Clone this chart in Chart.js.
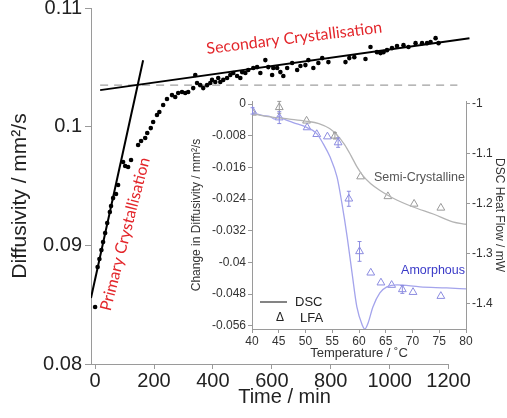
<!DOCTYPE html>
<html>
<head>
<meta charset="utf-8">
<script src="https://cdn.jsdelivr.net/npm/chart.js@4.4.1/dist/chart.umd.min.js"></script>
<style>
  html, body { margin: 0; padding: 0; background: #fff; }
  #wrap { position: relative; width: 507px; height: 418px; }
  #mainChart { position: absolute; left: 0; top: 0; width: 507px; height: 418px; }
  #insetChart { position: absolute; left: 180px; top: 90px; width: 327px; height: 280px; }
</style>
</head>
<body>
<div id="wrap">
  <canvas id="mainChart" width="507" height="418"></canvas>
  <canvas id="insetChart" width="327" height="280"></canvas>
</div>
<script>
// isothermal run: diffusivity vs time
const timeMin = [0, 8.5, 14.6, 21.4, 27, 34, 41, 50, 54, 61, 71, 78, 95, 102, 112, 122, 146, 156, 170, 177,
  189, 197, 210, 218, 231, 244, 261, 272, 282, 295, 306, 316, 333, 340, 346, 357, 367, 380, 391, 397,
  408, 418, 425, 435, 448, 459, 469, 482, 493, 499, 510, 520, 537, 550, 561, 578, 588, 601, 605, 618,
  629, 639, 652, 669, 686, 697, 714, 724, 741, 758, 771, 792, 850, 863, 880, 918, 935, 957, 969, 979,
  991, 1008, 1025, 1047, 1064, 1088, 1110, 1127, 1139, 1156, 1166];
const diffusivity = [0.0848, 0.08817, 0.08885, 0.0896, 0.09028, 0.09104, 0.09188, 0.09281, 0.09331, 0.09398,
  0.09432, 0.09508, 0.09702, 0.09668, 0.0966, 0.09719, 0.09845, 0.09879, 0.09904, 0.09946,
  0.09988, 0.10039, 0.10098, 0.10123, 0.10182, 0.10233, 0.10266, 0.1025, 0.10284, 0.10292,
  0.10284, 0.10292, 0.10325, 0.10435, 0.10368, 0.1035, 0.10325, 0.1035, 0.10368, 0.10394,
  0.10376, 0.1041, 0.10376, 0.10394, 0.1041, 0.10435, 0.10452, 0.10427, 0.1041, 0.1046,
  0.10452, 0.10477, 0.10494, 0.10502, 0.10452, 0.10561, 0.10502, 0.10435, 0.10494, 0.10494,
  0.1046, 0.10427, 0.10494, 0.10536, 0.10477, 0.10511, 0.10519, 0.10561, 0.10494, 0.10536,
  0.10578, 0.10544, 0.10544, 0.10578, 0.10586, 0.1057, 0.10671, 0.10628, 0.1062, 0.10628,
  0.10645, 0.10662, 0.10679, 0.10687, 0.10671, 0.10704, 0.10704, 0.10704, 0.10713, 0.10746,
  0.10704];

// fitted lines
const primaryFitT = [-14, 163];
const primaryFitD = [0.08556, 0.1056];
const secondaryFitT = [17, 1271];
const secondaryFitD = [0.10308, 0.10746];
const plateauT = [17, 1230];
const plateauD = [0.1035, 0.1035];

const timeTicks = [0, 200, 400, 600, 800, 1000, 1200];
const diffTicks = [0.08, 0.09, 0.1, 0.11];

// inset: DSC heat flow and LFA diffusivity change vs temperature
const semiDscT = [40, 43, 47, 50, 52.5, 54.5, 56, 57.3, 58.5, 59.6, 60.8, 62.2, 64, 66.4, 70, 74, 77.5, 80];
const semiDscHF = [-1.020, -1.026, -1.031, -1.035, -1.040, -1.050, -1.064, -1.082, -1.104, -1.126, -1.145, -1.160, -1.174, -1.189, -1.206, -1.221, -1.236, -1.241];
const amorDscT = [40, 42.1, 43.4, 44.2, 44.9, 46.2, 47.7, 50.3, 52.1, 53.3, 54.6, 55.9, 56.8, 57.8, 58.7, 59.6, 60.6, 61.1, 61.7, 62.6, 63.9, 65.2, 67.1, 71.4, 76.4, 80];
const amorDscHF = [-1.018, -1.024, -1.026, -1.031, -1.026, -1.032, -1.038, -1.048, -1.060, -1.080, -1.107, -1.147, -1.199, -1.267, -1.338, -1.406, -1.442, -1.450, -1.438, -1.406, -1.378, -1.366, -1.362, -1.366, -1.368, -1.370];

const semiLfaT = [40.1, 45.1, 50.2, 55.5, 60.3, 65.4, 70.3, 75.3];
const semiLfaD = [-0.0022, -0.0008, -0.0042, -0.0080, -0.0183, -0.0233, -0.0252, -0.0262];
const semiLfaErr = [0, 0.0015, 0, 0.0008, 0, 0, 0, 0];
const amorLfaT = [40.1, 45.1, 50.3, 52.1, 54.1, 56.1, 58.1, 60.1, 62.2, 64.1, 66.1, 68.1, 70.1, 75.3];
const amorLfaD = [-0.0017, -0.0034, -0.0059, -0.0076, -0.0082, -0.0097, -0.0239, -0.0372, -0.0426, -0.0451, -0.0457, -0.0468, -0.0475, -0.0485];
const amorLfaErr = [0.0008, 0.0015, 0, 0, 0, 0.0012, 0.0019, 0.0025, 0, 0, 0, 0.001, 0, 0];

const changeTicks = [0, -0.008, -0.016, -0.024, -0.032, -0.04, -0.048, -0.056];
const heatFlowTicks = [-1, -1.1, -1.2, -1.3, -1.4];

const pts = (xs, ys) => xs.map((x, i) => ({ x: x, y: ys[i] }));
const AXIS = '#9a9a9a';
const TXT = '#222';
const FONT = 'Liberation Sans, Arial, sans-serif';
const RED = '#e3262b';

// axis line along x (stops at the last tick), y title and the red labels
const mainDecor = {
  id: 'mainDecor',
  afterDraw(chart) {
    const ctx = chart.ctx;
    const x = chart.scales.x, y = chart.scales.y;
    ctx.save();
    ctx.strokeStyle = AXIS;
    ctx.lineWidth = 1;
    ctx.beginPath();
    ctx.moveTo(x.left, y.bottom + 0.5);
    ctx.lineTo(x.getPixelForValue(1200), y.bottom + 0.5);
    ctx.stroke();
    ctx.restore();

    ctx.save();
    ctx.fillStyle = TXT;
    ctx.font = '21px ' + FONT;
    ctx.textAlign = 'center';
    ctx.textBaseline = 'middle';
    ctx.translate(20, (y.top + y.bottom) / 2 + 10);
    ctx.rotate(-Math.PI / 2);
    ctx.fillText('Diffusivity / mm²/s', 0, 0);
    ctx.restore();

    ctx.save();
    ctx.fillStyle = RED;
    ctx.font = '16px Lato, sans-serif';
    ctx.textAlign = 'center';
    ctx.textBaseline = 'middle';
    ctx.translate(x.getPixelForValue(676), y.getPixelForValue(0.10746));
    ctx.rotate(-7 * Math.PI / 180);
    ctx.fillText('Secondary Crystallisation', 0, 0);
    ctx.restore();

    ctx.save();
    ctx.fillStyle = RED;
    ctx.font = '16px Lato, sans-serif';
    ctx.textAlign = 'center';
    ctx.textBaseline = 'middle';
    ctx.translate(x.getPixelForValue(102), y.getPixelForValue(0.09095));
    ctx.rotate(-75.5 * Math.PI / 180);
    ctx.fillText('Primary Crystallisation', 0, 0);
    ctx.restore();
  }
};

new Chart(document.getElementById('mainChart'), {
  type: 'scatter',
  data: {
    datasets: [
      { data: pts(timeMin, diffusivity), pointRadius: 2.3, backgroundColor: '#000', borderWidth: 0 },
      { type: 'line', data: pts(primaryFitT, primaryFitD), borderColor: '#000', borderWidth: 2, pointRadius: 0 },
      { type: 'line', data: pts(secondaryFitT, secondaryFitD), borderColor: '#000', borderWidth: 2, pointRadius: 0 },
      { type: 'line', data: pts(plateauT, plateauD), borderColor: '#a0a0a0', borderWidth: 1.2, borderDash: [8, 6], pointRadius: 0 }
    ]
  },
  options: {
    responsive: false,
    animation: false,
    layout: { padding: { top: 8, right: 29, left: 0, bottom: 0 } },
    plugins: { legend: { display: false }, tooltip: { enabled: false } },
    scales: {
      x: {
        type: 'linear', min: -14, max: 1300,
        afterBuildTicks: s => { s.ticks = timeTicks.map(v => ({ value: v })); },
        afterFit: s => { s.height = 54; s.paddingLeft = 0; s.paddingRight = 0; },
        ticks: { font: { family: FONT, size: 20 }, color: TXT, padding: 0, maxRotation: 0, callback: v => String(v) },
        grid: { drawOnChartArea: false, tickLength: 5, color: AXIS },
        border: { display: false },
        title: { display: true, text: 'Time / min', font: { family: FONT, size: 20 }, color: TXT, padding: { bottom: 9, top: 0 } }
      },
      y: {
        min: 0.08, max: 0.11,
        afterBuildTicks: s => { s.ticks = diffTicks.map(v => ({ value: v })); },
        afterFit: s => { s.width = 91; s.paddingTop = 0; s.paddingBottom = 0; },
        ticks: { font: { family: FONT, size: 20 }, color: TXT, padding: 3, callback: v => String(v) },
        grid: { drawOnChartArea: false, tickLength: 6, color: AXIS },
        border: { color: AXIS }
      }
    }
  },
  plugins: [mainDecor]
});

// error bars, legend and curve labels for the inset
const insetDecor = {
  id: 'insetDecor',
  afterDatasetsDraw(chart) {
    const ctx = chart.ctx;
    const x = chart.scales.x, y = chart.scales.y;
    const bars = [[semiLfaT, semiLfaD, semiLfaErr, '#9a9a9a'], [amorLfaT, amorLfaD, amorLfaErr, '#8c8ce0']];
    ctx.save();
    ctx.lineWidth = 1;
    bars.forEach(([ts, ds, es, col]) => {
      ctx.strokeStyle = col;
      ts.forEach((t, i) => {
        if (!es[i]) return;
        const px = x.getPixelForValue(t);
        const y1 = y.getPixelForValue(ds[i] + es[i]);
        const y2 = y.getPixelForValue(ds[i] - es[i]);
        ctx.beginPath();
        ctx.moveTo(px, y1); ctx.lineTo(px, y2);
        ctx.moveTo(px - 2, y1); ctx.lineTo(px + 2, y1);
        ctx.moveTo(px - 2, y2); ctx.lineTo(px + 2, y2);
        ctx.stroke();
      });
    });
    ctx.restore();
  },
  afterDraw(chart) {
    const ctx = chart.ctx;
    const y = chart.scales.y;
    const L = chart.chartArea.left;
    ctx.save();
    // legend
    ctx.strokeStyle = '#333';
    ctx.lineWidth = 1.2;
    ctx.beginPath();
    ctx.moveTo(L + 8, 212); ctx.lineTo(L + 35, 212);
    ctx.stroke();
    ctx.fillStyle = TXT;
    ctx.font = '13px ' + FONT;
    ctx.textBaseline = 'middle';
    ctx.textAlign = 'left';
    ctx.fillText('DSC', L + 43, 212);
    ctx.fillText('LFA', L + 48, 228);
    ctx.font = '12px ' + FONT;
    ctx.fillText('Δ', L + 24, 228);
    // curve labels
    ctx.font = '12.5px ' + FONT;
    ctx.fillStyle = '#555';
    ctx.textAlign = 'right';
    ctx.fillText('Semi-Crystalline', chart.chartArea.right - 1, y.getPixelForValue(-0.0185));
    ctx.fillStyle = '#3a3ac8';
    ctx.fillText('Amorphous', chart.chartArea.right - 1, y.getPixelForValue(-0.0420));
    ctx.restore();
  }
};

new Chart(document.getElementById('insetChart'), {
  type: 'line',
  data: {
    datasets: [
      { data: pts(semiDscT, semiDscHF), yAxisID: 'y2', borderColor: '#b4b4b4', borderWidth: 1.3, pointRadius: 0, cubicInterpolationMode: 'monotone' },
      { data: pts(amorDscT, amorDscHF), yAxisID: 'y2', borderColor: '#a4a4ec', borderWidth: 1.3, pointRadius: 0, cubicInterpolationMode: 'monotone' },
      { data: pts(semiLfaT, semiLfaD), yAxisID: 'y', showLine: false, pointStyle: 'triangle', pointRadius: 4.5, borderColor: '#9a9a9a', backgroundColor: 'rgba(255,255,255,0)', borderWidth: 1 },
      { data: pts(amorLfaT, amorLfaD), yAxisID: 'y', showLine: false, pointStyle: 'triangle', pointRadius: 4.5, borderColor: '#8c8ce0', backgroundColor: 'rgba(255,255,255,0)', borderWidth: 1 }
    ]
  },
  options: {
    responsive: false,
    animation: false,
    layout: { padding: { top: 11, right: 0, left: 0, bottom: 0 } },
    plugins: { legend: { display: false }, tooltip: { enabled: false } },
    scales: {
      x: {
        type: 'linear', min: 40, max: 80,
        afterFit: s => { s.height = 41; s.paddingLeft = 0; s.paddingRight = 0; },
        ticks: { stepSize: 5, font: { family: FONT, size: 12 }, color: '#333', padding: 1, maxRotation: 0 },
        grid: { drawOnChartArea: false, tickLength: 4, color: AXIS },
        border: { color: AXIS },
        title: { display: true, text: 'Temperature / ˚C', font: { family: FONT, size: 13 }, color: '#333', padding: { top: 0, bottom: 9 } }
      },
      y: {
        position: 'left', min: -0.0568, max: 0.0008,
        afterBuildTicks: s => { s.ticks = changeTicks.map(v => ({ value: v })); },
        afterFit: s => { s.width = 72; s.paddingTop = 0; s.paddingBottom = 0; },
        ticks: { font: { family: FONT, size: 12 }, color: '#333', padding: 2, callback: v => String(v) },
        grid: { drawOnChartArea: false, tickLength: 4, color: AXIS },
        border: { color: AXIS },
        title: { display: true, text: 'Change in Diffusivity / mm²/s', font: { family: FONT, size: 12 }, color: '#333', padding: { top: 9, bottom: 0 } }
      },
      y2: {
        position: 'right', min: -1.45, max: -0.995,
        afterBuildTicks: s => { s.ticks = heatFlowTicks.map(v => ({ value: v })); },
        afterFit: s => { s.width = 41; s.paddingTop = 0; s.paddingBottom = 0; },
        ticks: { font: { family: FONT, size: 12 }, color: '#333', padding: 2, callback: v => String(v) },
        grid: { drawOnChartArea: false, tickLength: 4, color: AXIS },
        border: { color: AXIS },
        title: { display: true, text: 'DSC Heat Flow / mW', font: { family: FONT, size: 12 }, color: '#333', padding: { top: 0, bottom: 0 } }
      }
    }
  },
  plugins: [insetDecor]
});
</script>
</body>
</html>
